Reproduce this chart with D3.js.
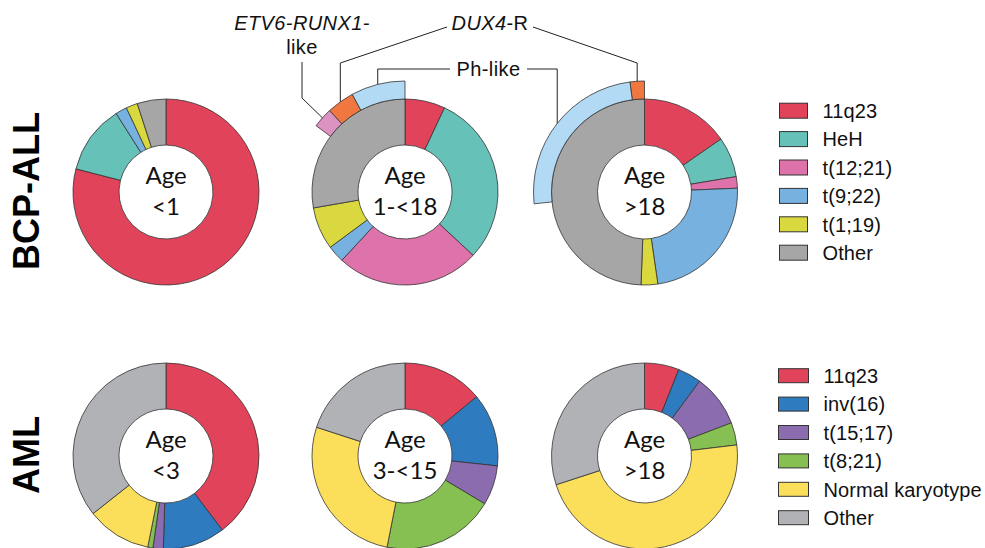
<!DOCTYPE html>
<html>
<head>
<meta charset="utf-8">
<script src="https://cdn.jsdelivr.net/npm/d3@7"></script>
<style>
body { margin:0; background:#fff; }
text { font-family: "Liberation Sans", Arial, sans-serif; }
</style>
</head>
<body>
<svg id="chart" width="985" height="548"></svg>
<script>
// BCP-ALL subtypes, % of cases per age group (clockwise from 12 o'clock)
let bcpTypes = ["11q23", "HeH", "t(12;21)", "t(9;22)", "t(1;19)", "Other"]
let bcpColors = ["#e0435a", "#66c1b8", "#de72aa", "#77b1e0", "#d9d83e", "#a6a6a6"]
let bcpAges = ["<1", "1-<18", ">18"]
let bcpInfant = [79, 12, 0, 2, 2, 5]
let bcpChild = [7, 30, 25, 3, 7.4, 27.8]
let bcpAdult = [15.4, 7, 2, 23.4, 2.9, 49.5]

// AML subtypes
let amlTypes = ["11q23", "inv(16)", "t(15;17)", "t(8;21)", "Normal karyotype", "Other"]
let amlColors = ["#e0435a", "#2e7bc0", "#8b6cae", "#86c052", "#fbde5a", "#b1b2b6"]
let amlAges = ["<3", "3-<15", ">18"]
let amlInfant = [39.6, 10.8, 1.8, 0.9, 11.2, 35.6]
let amlChild = [14, 12.7, 6.9, 19.5, 26.9, 20]
let amlAdult = [6, 4.1, 9.1, 3.9, 46.9, 30]

// new subtypes hidden in "Other", counter-clockwise from 12 o'clock
let ringTypes = ["Ph-like", "DUX4-R", "ETV6-RUNX1-like"]
let ringColors = ["#b3daf5", "#f07840", "#dc93c1"]
let ringChild = [["Ph-like", 7.9], ["DUX4-R", 4], ["ETV6-RUNX1-like", 2.9]]
let ringAdult = [["DUX4-R", 2.1], ["Ph-like", 24.6]]

let svg = d3.select("#chart")
let colX = [166, 405, 644.5]
let rowY = [192, 456]
let rIn = 47, rOut = 93, rRing = 111

let pie = d3.pie().sort(null).value(d => d)
let arc = d3.arc().innerRadius(rIn).outerRadius(rOut)
let ringArc = d3.arc().innerRadius(rOut).outerRadius(rRing)
let ang = d3.scaleLinear().domain([0, 100]).range([0, -2 * Math.PI])
let ringColor = d3.scaleOrdinal().domain(ringTypes).range(ringColors)

function donut(cx, cy, values, colors, age){
    let g = svg.append("g").attr("transform", `translate(${cx},${cy})`)
    g.selectAll(".slice")
        .data(pie(values).filter(d => d.value > 0))
        .enter()
        .append("path")
            .attr("class", "slice")
            .attr("d", arc)
            .attr("fill", d => colors[d.index])
            .attr("stroke", "#333")
            .attr("stroke-width", 0.8)
    let t = g.append("text")
        .attr("text-anchor", "middle")
        .style("font-family", "Lato, 'Open Sans', sans-serif")
        .style("font-size", "24px")
        .attr("fill", "#111")
    t.append("tspan").attr("x", 0).attr("y", -8).text("Age")
    t.append("tspan").attr("x", 0).attr("y", 23).text(age)
    return g
}

// ring segments, returns anchor point (outer edge, mid angle) per type
function ring(g, cx, cy, segs){
    let acc = 0, anchors = {}
    let data = segs.map(s => {
        let d = {type: s[0], startAngle: ang(acc), endAngle: ang(acc + s[1])}
        acc += s[1]
        return d
    })
    g.selectAll(".ring")
        .data(data)
        .enter()
        .append("path")
            .attr("class", "ring")
            .attr("d", ringArc)
            .attr("fill", d => ringColor(d.type))
            .attr("stroke", "#333")
            .attr("stroke-width", 0.8)
    data.forEach(d => {
        let a = (d.startAngle + d.endAngle) / 2
        anchors[d.type] = [cx + rRing * Math.sin(a), cy - rRing * Math.cos(a)]
    })
    return anchors
}

let bcpVals = [bcpInfant, bcpChild, bcpAdult]
let amlVals = [amlInfant, amlChild, amlAdult]
let gB = bcpVals.map((v, i) => donut(colX[i], rowY[0], v, bcpColors, bcpAges[i]))
amlVals.forEach((v, i) => donut(colX[i], rowY[1], v, amlColors, amlAges[i]))

let aChild = ring(gB[1], colX[1], rowY[0], ringChild)
let aAdult = ring(gB[2], colX[2], rowY[0], ringAdult)

// leader lines
let line = d3.line()
let leaders = [
    [[302, 62], [302, 98], aChild["ETV6-RUNX1-like"]],
    [[447, 27], [aChild["DUX4-R"][0], 63], aChild["DUX4-R"]],
    [[533, 27], [aAdult["DUX4-R"][0], 63], aAdult["DUX4-R"]],
    [[450, 69], [aChild["Ph-like"][0], 69], aChild["Ph-like"]],
    [[527, 69], [aAdult["Ph-like"][0], 69], aAdult["Ph-like"]]
]
svg.selectAll(".leader")
    .data(leaders)
    .enter()
    .append("path")
        .attr("class", "leader")
        .attr("d", line)
        .attr("fill", "none")
        .attr("stroke", "#222")
        .attr("stroke-width", 1)

let ann = svg.append("g").style("font-size", "20px").style("letter-spacing", "0.4px").attr("fill", "#111")
ann.append("text").attr("x", 302).attr("y", 30).attr("text-anchor", "middle")
    .style("font-style", "italic").text("ETV6-RUNX1-")
ann.append("text").attr("x", 302).attr("y", 54).attr("text-anchor", "middle").text("like")
let dux = ann.append("text").attr("x", 490).attr("y", 30).attr("text-anchor", "middle")
dux.append("tspan").style("font-style", "italic").text("DUX4")
dux.append("tspan").text("-R")
ann.append("text").attr("x", 488.5).attr("y", 76).attr("text-anchor", "middle").text("Ph-like")

// legends
function legend(x0, y0, types, colors, sw, sh){
    let g = svg.append("g").attr("transform", `translate(${x0},${y0})`)
    let y = d3.scalePoint().domain(types).range([0, 142])
    let rows = g.selectAll(".lg")
        .data(types)
        .enter()
        .append("g")
            .attr("transform", d => `translate(0,${y(d)})`)
    rows.append("rect")
        .attr("x", 0).attr("y", -sh / 2)
        .attr("width", sw).attr("height", sh)
        .attr("fill", (d, i) => colors[i])
        .attr("stroke", "#333").attr("stroke-width", 1)
    rows.append("text")
        .attr("x", sw + 15).attr("dy", "0.36em")
        .style("font-size", "20px").style("letter-spacing", "0.1px")
        .attr("fill", "#111")
        .text(d => d)
}
legend(779.5, 110.7, bcpTypes, bcpColors, 28, 15)
legend(778.5, 375.7, amlTypes, amlColors, 30, 14)

// row labels
let rowLabels = ["BCP-ALL", "AML"]
svg.selectAll(".rowlab")
    .data(rowLabels)
    .enter()
    .append("text")
        .attr("class", "rowlab")
        .attr("transform", (d, i) => `translate(39,${rowY[i] - 1}) rotate(-90)`)
        .attr("text-anchor", "middle")
        .style("font-size", "36px")
        .style("font-weight", "bold")
        .attr("fill", "#000")
        .text(d => d)
</script>
</body>
</html>
